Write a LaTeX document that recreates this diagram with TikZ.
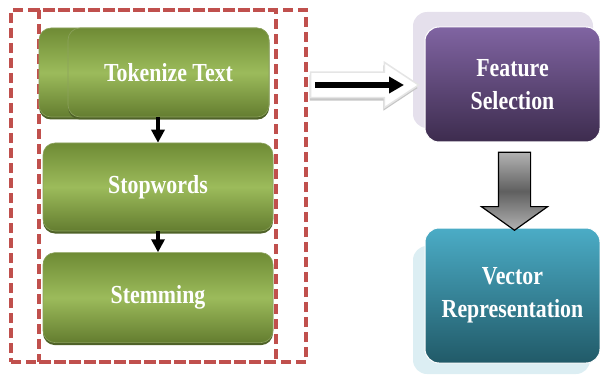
\documentclass[tikz,border=0pt]{standalone}
\usepackage{fontspec}
\newfontfamily\boxfont[FakeStretch=0.84]{Liberation Serif}
\usetikzlibrary{arrows.meta,positioning,shapes.arrows,shadows}
\definecolor{olivedark}{HTML}{6F8B35}
\definecolor{olivelight}{HTML}{9CBB5B}
\definecolor{oliveedge}{HTML}{4F6228}
\definecolor{plumlight}{HTML}{8064A2}
\definecolor{plumdark}{HTML}{3D2C4E}
\definecolor{plumback}{HTML}{E5E0EC}
\definecolor{teallight}{HTML}{4BACC6}
\definecolor{tealdark}{HTML}{215A68}
\definecolor{tealback}{HTML}{DCEEF3}
\definecolor{redash}{HTML}{C0504D}

\begin{document}
\begin{tikzpicture}[x=1pt,y=-1pt,>=Latex,
 txt/.style={text=white,font=\boxfont\bfseries\fontsize{26}{33}\selectfont,align=center},
 greenbox/.style={txt,rounded corners=12pt,minimum width=230pt,minimum height=89pt,
  top color=olivedark,bottom color=olivedark!90!black,middle color=olivelight,
  draw=olivedark!80!white,line width=0.6pt,
  drop shadow={shadow xshift=0pt,shadow yshift=-2.5pt,fill=oliveedge,opacity=1}},
 colbox/.style={txt,rounded corners=14pt,minimum width=175pt,draw=white,line width=1pt,
  shading angle=45},
 dashbox/.style={draw=redash,line width=3.2pt,dash pattern=on 10pt off 5pt,inner sep=0pt},
 flow/.style={->,line width=4pt,-{Triangle[width=13pt,length=13pt]}}]
\useasboundingbox (0,0) rectangle (601,374);

% pre-processing group
\node[dashbox,minimum width=295pt,minimum height=352pt] (outer) at (158.5,186) {};
\node[dashbox,minimum width=237pt,minimum height=352pt] (inner) at (157.5,186) {};

\node[greenbox] (tokback) at (154,72.5) {};
\node[greenbox,minimum width=201pt] (tok) at (168.5,72.5) {Tokenize Text};
\node[greenbox,minimum height=88pt] (stop) at (158,187) {Stopwords};
\node[greenbox,minimum height=90pt,below=21pt of stop.south,anchor=north] (stem) {Stemming};

\draw[flow] (tok.south -| stop.north) -- (stop.north);
\draw[flow] (stop.south) -- (stem.north);

% feature selection and vectors
\fill[plumback,rounded corners=14pt] (413,12) rectangle (593,128);
\node[colbox,minimum height=115pt,top color=plumlight,bottom color=plumdark] (feat)
 at (512.5,84.5) {Feature\\Selection};

\fill[tealback,rounded corners=14pt] (413,246) rectangle (590,374);
\node[colbox,minimum height=135pt,top color=teallight,bottom color=tealdark] (vec)
 at (512.5,295.5) {Vector\\Representation};

% block arrows
\node[single arrow,draw=gray!20,line width=1.5pt,fill=white,inner xsep=0pt,inner ysep=12pt,
 minimum height=108pt,minimum width=44pt,single arrow head extend=10pt,
 single arrow tip angle=67,
 drop shadow={shadow xshift=-1pt,shadow yshift=-3pt,fill=gray!45,opacity=1}]
 (harrow) at (355,85) {};
\coordinate (hs) at (315,85);
\coordinate (he) at (404,85);
\draw[line width=6pt,-{Triangle[width=16pt,length=15pt]}] (hs) -- (he);

\node[single arrow,shape border rotate=270,draw=black,line width=1.2pt,
 top color=gray!60,bottom color=gray!60,middle color=gray!75!black,
 inner xsep=15.5pt,inner ysep=0pt,minimum height=78pt,minimum width=65pt,
 single arrow head extend=17pt,single arrow tip angle=109]
 (varrow) at (514.5,185.5) {};
\end{tikzpicture}
\end{document}
